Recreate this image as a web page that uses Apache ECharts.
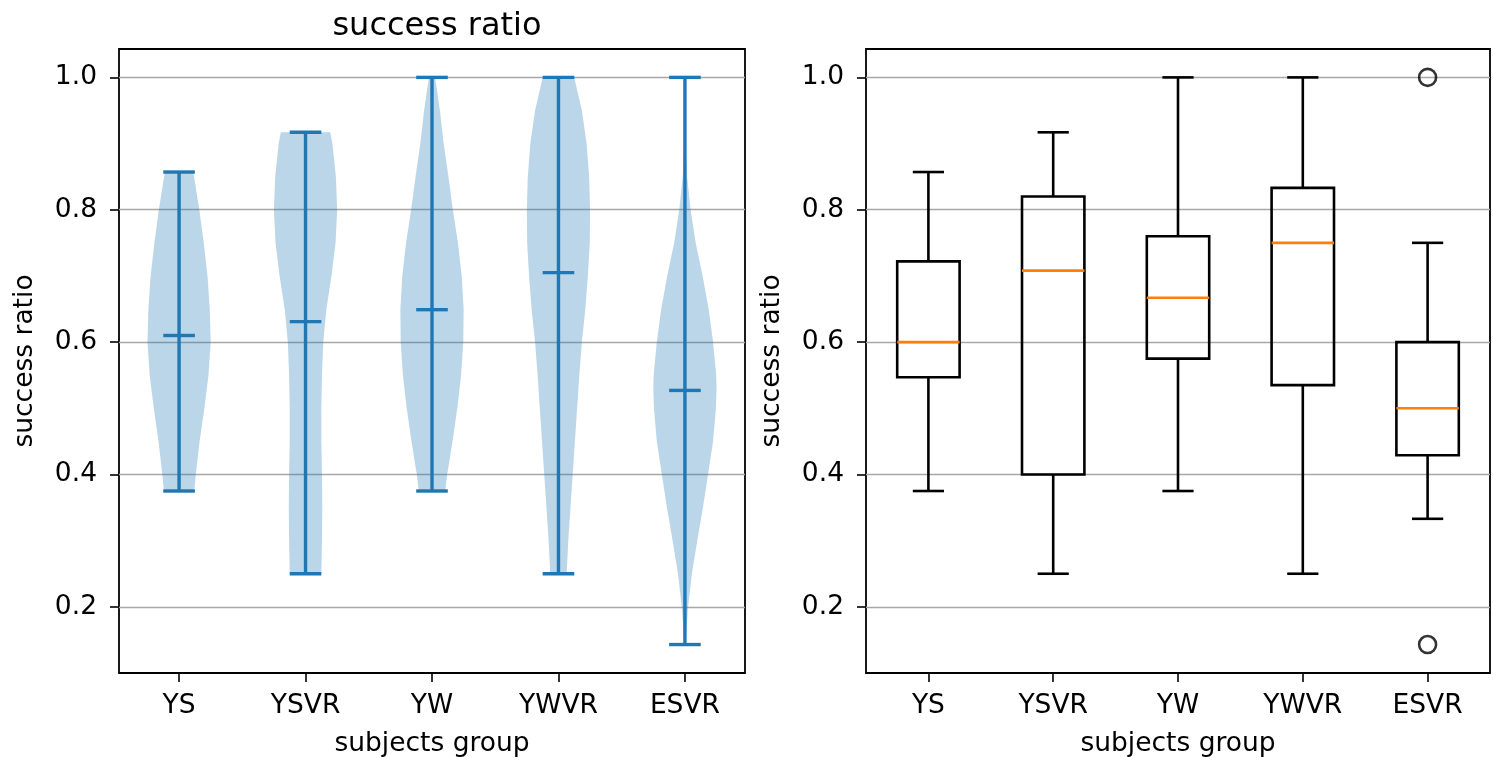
<!DOCTYPE html>
<html>
<head>
<meta charset="utf-8">
<script src="https://cdn.jsdelivr.net/npm/echarts@6/dist/echarts.min.js"></script>
<style>
  html, body { margin: 0; padding: 0; background: #fff; }
  #chart { width: 1493px; height: 757px; }
</style>
</head>
<body>
<div id="chart"></div>
<script>
const groups = ['YS', 'YSVR', 'YW', 'YWVR', 'ESVR'];
const positions = [1, 2, 3, 4, 5];
const yTicks = [0.2, 0.4, 0.6, 0.8, 1.0];

// violin plot: extremes, means and density profiles [value, relative width]
const violinMin = [0.375, 0.25, 0.375, 0.25, 0.143];
const violinMax = [0.857, 0.917, 1.0, 1.0, 1.0];
const violinMean = [0.61, 0.631, 0.649, 0.705, 0.527];

const ysProfile = [[0.375, 0.48], [0.40, 0.53], [0.45, 0.65], [0.50, 0.80], [0.55, 0.93], [0.60, 1.0],
  [0.65, 0.97], [0.70, 0.90], [0.75, 0.78], [0.80, 0.64], [0.857, 0.45]];
const ysvrProfile = [[0.25, 0.50], [0.30, 0.52], [0.35, 0.53], [0.40, 0.52], [0.45, 0.50], [0.50, 0.50],
  [0.55, 0.52], [0.60, 0.56], [0.65, 0.66], [0.70, 0.82], [0.75, 0.95], [0.80, 1.0], [0.85, 0.96],
  [0.90, 0.85], [0.917, 0.78]];
const ywProfile = [[0.375, 0.42], [0.40, 0.48], [0.45, 0.65], [0.50, 0.80], [0.55, 0.92], [0.60, 0.99],
  [0.65, 1.0], [0.70, 0.94], [0.75, 0.82], [0.80, 0.66], [0.85, 0.52], [0.90, 0.37], [0.95, 0.25], [1.0, 0.1]];
const ywvrProfile = [[0.25, 0.26], [0.30, 0.31], [0.35, 0.38], [0.40, 0.45], [0.45, 0.52], [0.50, 0.59],
  [0.55, 0.66], [0.60, 0.74], [0.65, 0.85], [0.70, 0.93], [0.75, 0.99], [0.80, 1.0], [0.85, 0.97],
  [0.90, 0.89], [0.95, 0.74], [1.0, 0.5]];
const esvrProfile = [[0.143, 0.02], [0.20, 0.10], [0.25, 0.22], [0.30, 0.39], [0.35, 0.57], [0.40, 0.73],
  [0.45, 0.89], [0.50, 0.98], [0.53, 1.0], [0.55, 0.99], [0.60, 0.89], [0.65, 0.75], [0.70, 0.56],
  [0.75, 0.34], [0.80, 0.18], [0.85, 0.07], [0.90, 0.02], [1.0, 0.0]];
const profiles = [ysProfile, ysvrProfile, ywProfile, ywvrProfile, esvrProfile];

// box plot stats
const boxLow = [0.375, 0.25, 0.375, 0.25, 0.333];
const boxQ1 = [0.547, 0.40, 0.575, 0.535, 0.429];
const boxMedian = [0.60, 0.708, 0.667, 0.75, 0.50];
const boxQ3 = [0.722, 0.82, 0.76, 0.833, 0.60];
const boxHigh = [0.857, 0.917, 1.0, 1.0, 0.75];
const fliers = [[5, 1.0], [5, 0.143]];

const font = 'DejaVu Sans';
const blue = '#1f77b4';

const chart = echarts.init(document.getElementById('chart'));

function xAxisOf(idx, min, max) {
  return {
    type: 'value', gridIndex: idx, min: min, max: max,
    name: 'subjects group', nameLocation: 'middle', nameGap: 58,
    nameTextStyle: { fontSize: 26.5, color: '#000', fontFamily: font },
    axisLine: { show: false },
    axisTick: { show: true, customValues: positions, length: 9, lineStyle: { color: '#000', width: 1.6 } },
    axisLabel: {
      customValues: positions, formatter: v => groups[Math.round(v) - 1],
      fontSize: 26.5, color: '#000', fontFamily: font, margin: 20
    },
    splitLine: { show: false }
  };
}

function yAxisOf(idx) {
  return {
    type: 'value', gridIndex: idx, min: 0.1, max: 1.0429,
    name: 'success ratio', nameLocation: 'middle', nameGap: 80, nameRotate: 90,
    nameTextStyle: { fontSize: 26.5, color: '#000', fontFamily: font },
    axisLine: { show: false },
    axisTick: { show: true, customValues: yTicks, length: 9, lineStyle: { color: '#000', width: 1.6 } },
    axisLabel: {
      customValues: yTicks, formatter: v => v.toFixed(1),
      fontSize: 26.5, color: '#000', fontFamily: font, margin: 22
    },
    splitLine: { show: true, lineStyle: { color: '#a8a8a8', width: 1.4 } }
  };
}

function hline(api, x0, x1, v, color, w) {
  const a = api.coord([x0, v]);
  const b = api.coord([x1, v]);
  return { type: 'line', shape: { x1: a[0], y1: a[1], x2: b[0], y2: b[1] }, style: { stroke: color, lineWidth: w } };
}

function vline(api, x, v0, v1, color, w) {
  const a = api.coord([x, v0]);
  const b = api.coord([x, v1]);
  return { type: 'line', shape: { x1: a[0], y1: a[1], x2: b[0], y2: b[1] }, style: { stroke: color, lineWidth: w } };
}

function renderViolin(params, api) {
  const i = params.dataIndex;
  const pos = api.value(0);
  const prof = profiles[i];
  const right = prof.map(p => api.coord([pos + p[1] * 0.25, p[0]]));
  const left = prof.slice().reverse().map(p => api.coord([pos - p[1] * 0.25, p[0]]));
  const w = 3.4;
  return {
    type: 'group',
    children: [
      { type: 'polygon', shape: { points: right.concat(left) }, style: { fill: 'rgba(31,119,180,0.3)' } },
      vline(api, pos, violinMin[i], violinMax[i], blue, w),
      hline(api, pos - 0.125, pos + 0.125, violinMin[i], blue, w),
      hline(api, pos - 0.125, pos + 0.125, violinMax[i], blue, w),
      hline(api, pos - 0.125, pos + 0.125, violinMean[i], blue, w)
    ]
  };
}

function renderBox(params, api) {
  const i = params.dataIndex;
  const pos = api.value(0);
  const tl = api.coord([pos - 0.25, boxQ3[i]]);
  const br = api.coord([pos + 0.25, boxQ1[i]]);
  const w = 2.6;
  return {
    type: 'group',
    children: [
      vline(api, pos, boxQ1[i], boxLow[i], '#000', w),
      vline(api, pos, boxQ3[i], boxHigh[i], '#000', w),
      hline(api, pos - 0.125, pos + 0.125, boxLow[i], '#000', w),
      hline(api, pos - 0.125, pos + 0.125, boxHigh[i], '#000', w),
      { type: 'rect', shape: { x: tl[0], y: tl[1], width: br[0] - tl[0], height: br[1] - tl[1] },
        style: { fill: 'none', stroke: '#000', lineWidth: w } },
      hline(api, pos - 0.25, pos + 0.25, boxMedian[i], '#ff7f0e', w)
    ]
  };
}

chart.setOption({
  animation: false,
  backgroundColor: '#fff',
  title: {
    text: 'success ratio', left: 432, top: 6, textAlign: 'center',
    textStyle: { fontSize: 32, fontWeight: 'normal', color: '#000', fontFamily: font }
  },
  grid: [
    { left: 119, top: 49, width: 626, height: 624, show: true, borderColor: '#000', borderWidth: 1.8, outerBoundsMode: 'none' },
    { left: 866, top: 49, width: 624, height: 624, show: true, borderColor: '#000', borderWidth: 1.8, outerBoundsMode: 'none' }
  ],
  xAxis: [xAxisOf(0, 0.525, 5.475), xAxisOf(1, 0.5, 5.5)],
  yAxis: [yAxisOf(0), yAxisOf(1)],
  series: [
    {
      type: 'custom', xAxisIndex: 0, yAxisIndex: 0,
      data: positions.map((p, i) => [p, violinMin[i], violinMax[i]]),
      encode: { x: 0, y: [1, 2] },
      renderItem: renderViolin
    },
    {
      type: 'custom', xAxisIndex: 1, yAxisIndex: 1,
      data: positions.map((p, i) => [p, boxLow[i], boxHigh[i]]),
      encode: { x: 0, y: [1, 2] },
      renderItem: renderBox
    },
    {
      type: 'scatter', xAxisIndex: 1, yAxisIndex: 1,
      data: fliers, symbol: 'circle', symbolSize: 17,
      itemStyle: { color: 'rgba(0,0,0,0)', borderColor: '#000', borderWidth: 2.6 }
    }
  ]
});
</script>
</body>
</html>
